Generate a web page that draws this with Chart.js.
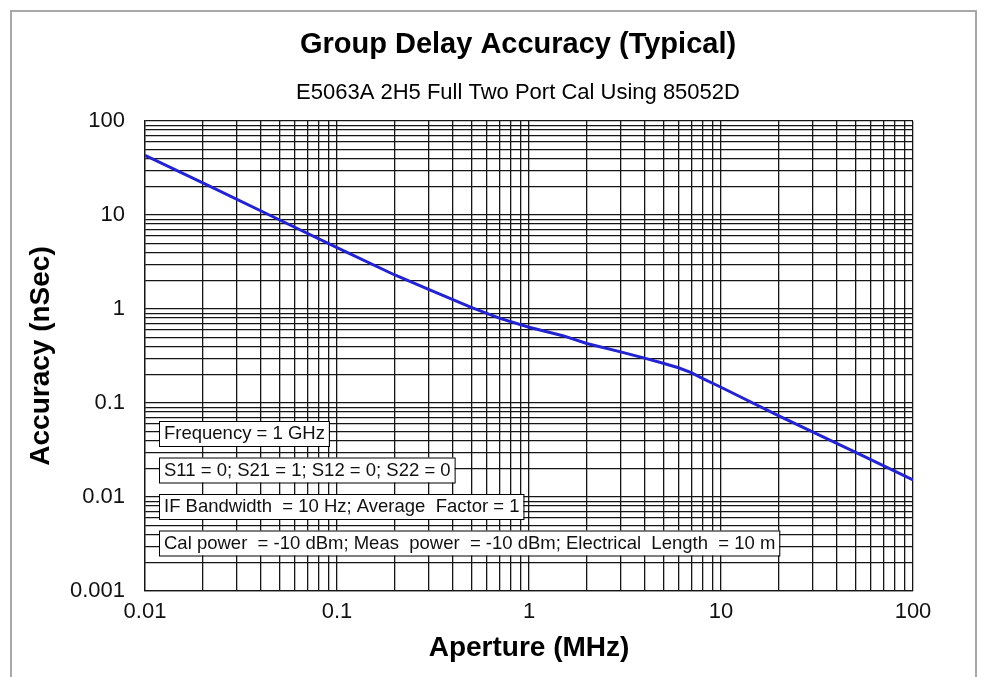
<!DOCTYPE html>
<html>
<head>
<meta charset="utf-8">
<title>Group Delay Accuracy (Typical)</title>
<script src="https://cdn.jsdelivr.net/npm/chart.js@4"></script>
<style>
  html, body { margin: 0; padding: 0; background: #fff; }
  #wrap { position: relative; width: 987px; height: 677px; }
</style>
</head>
<body>
<div id="wrap"><canvas id="chart"></canvas></div>
<script>
/* ── data ────────────────────────────────────────────────── */
const APERTURE = [0.01, 0.02, 0.05, 0.1, 0.2, 0.3, 0.5, 0.7, 1, 1.5, 2, 3, 4, 5, 6, 7, 8, 10, 20, 50, 100];
const ACCURACY = [43, 22, 8.9, 4.5, 2.3, 1.62, 1.04, 0.80, 0.64, 0.52, 0.43, 0.35, 0.30, 0.265, 0.237, 0.21, 0.183, 0.147, 0.073, 0.030, 0.0152];

const X_DECADES     = [0.01, 0.1, 1, 10, 100];
const X_TICK_LABELS = ["0.01", "0.1", "1", "10", "100"];
const Y_DECADES     = [0.001, 0.01, 0.1, 1, 10, 100];
const Y_TICK_LABELS = ["0.001", "0.01", "0.1", "1", "10", "100"];
const MINOR_STEPS   = [1, 2, 3, 4, 5, 6, 7, 8, 9];

const TITLE    = "Group Delay Accuracy (Typical)";
const SUBTITLE = "E5063A 2H5 Full Two Port Cal Using 85052D";
const X_TITLE  = "Aperture (MHz)";
const Y_TITLE  = "Accuracy (nSec)";
const NOTES = [
  "Frequency = 1 GHz",
  "S11 = 0; S21 = 1; S12 = 0; S22 = 0",
  "IF Bandwidth  = 10 Hz; Average  Factor = 1",
  "Cal power  = -10 dBm; Meas  power  = -10 dBm; Electrical  Length  = 10 m",
];

const FONT = "'Liberation Sans', Arial, sans-serif";

/* ── helpers ──────────────────────────────────────────────── */
// grid values: 1..9 × each decade, closing with the last decade
function gridValues(decades) {
  const out = [];
  decades.slice(0, -1).forEach(d => MINOR_STEPS.forEach(m => out.push(+(d * m).toPrecision(6))));
  out.push(decades[decades.length - 1]);
  return out;
}
function decadeLabel(v, decades, labels) {
  const i = decades.findIndex(d => Math.abs(d - v) / d < 1e-6);
  return i >= 0 ? labels[i] : "";
}

/* ── plugins: frame, titles, note boxes ───────────────────── */
const decorPlugin = {
  id: "decor",
  beforeDraw(chart) {
    const ctx = chart.ctx;
    ctx.save();
    ctx.fillStyle = "#fff";
    ctx.fillRect(0, 0, chart.width, chart.height);
    ctx.strokeStyle = "#a8a8a8";
    ctx.lineWidth = 2;
    ctx.strokeRect(11, 11, 965, 670);
    ctx.restore();
  },
  afterDraw(chart) {
    const ctx = chart.ctx;
    ctx.save();
    ctx.fillStyle = "#000";
    ctx.textAlign = "center";
    ctx.textBaseline = "middle";
    ctx.font = "bold 29px " + FONT;
    ctx.fillText(TITLE, 518, 45);
    ctx.font = "22px " + FONT;
    ctx.fillText(SUBTITLE, 518, 93);

    // condition boxes
    ctx.font = "18.5px " + FONT;
    ctx.textAlign = "left";
    NOTES.forEach((txt, i) => {
      const top = 421 + i * 36.5;
      const w = ctx.measureText(txt).width + 9;
      ctx.fillStyle = "#fff";
      ctx.fillRect(159, top, w, 25);
      ctx.strokeStyle = "#000";
      ctx.lineWidth = 1;
      ctx.strokeRect(159.5, top + 0.5, w, 25);
      ctx.fillStyle = "#111";
      ctx.fillText(txt, 164, top + 13);
    });
    ctx.restore();
  },
};

/* ── chart ────────────────────────────────────────────────── */
new Chart(document.getElementById("chart"), {
  type: "line",
  data: {
    datasets: [{
      data: APERTURE.map((x, i) => ({ x, y: ACCURACY[i] })),
      borderColor: "#2323d2",
      borderWidth: 3,
      pointRadius: 0,
      tension: 0,
      fill: false,
    }],
  },
  options: {
    responsive: true,
    maintainAspectRatio: false,
    animation: false,
    layout: { padding: { left: 10, right: 74, top: 121, bottom: 0 } },
    plugins: { legend: { display: false }, tooltip: { enabled: false } },
    scales: {
      x: {
        type: "logarithmic",
        min: 0.01, max: 100,
        afterBuildTicks: s => { s.ticks = gridValues(X_DECADES).map(v => ({ value: v })); },
        afterFit: s => { s.height = 86; },
        ticks: {
          autoSkip: false, maxRotation: 0, padding: 8,
          color: "#111", font: { family: FONT, size: 22 },
          callback: v => decadeLabel(v, X_DECADES, X_TICK_LABELS),
        },
        grid: { color: "#151515", lineWidth: 1.3, drawTicks: false },
        border: { display: true, color: "#151515", width: 1.3 },
        title: {
          display: true, text: X_TITLE, color: "#000",
          font: { family: FONT, size: 28, weight: "bold" },
          padding: { top: 0, bottom: 12 },
        },
      },
      y: {
        type: "logarithmic",
        min: 0.001, max: 100,
        afterBuildTicks: s => { s.ticks = gridValues(Y_DECADES).map(v => ({ value: v })); },
        afterFit: s => { s.width = 135; },
        ticks: {
          autoSkip: false, padding: 20,
          color: "#111", font: { family: FONT, size: 22 },
          callback: v => decadeLabel(v, Y_DECADES, Y_TICK_LABELS),
        },
        grid: { color: "#151515", lineWidth: 1.3, drawTicks: false },
        border: { display: true, color: "#151515", width: 1.3 },
        title: {
          display: true, text: Y_TITLE, color: "#000",
          font: { family: FONT, size: 28, weight: "bold" },
          padding: { top: 14, bottom: 0 },
        },
      },
    },
  },
  plugins: [decorPlugin],
});
</script>
</body>
</html>
